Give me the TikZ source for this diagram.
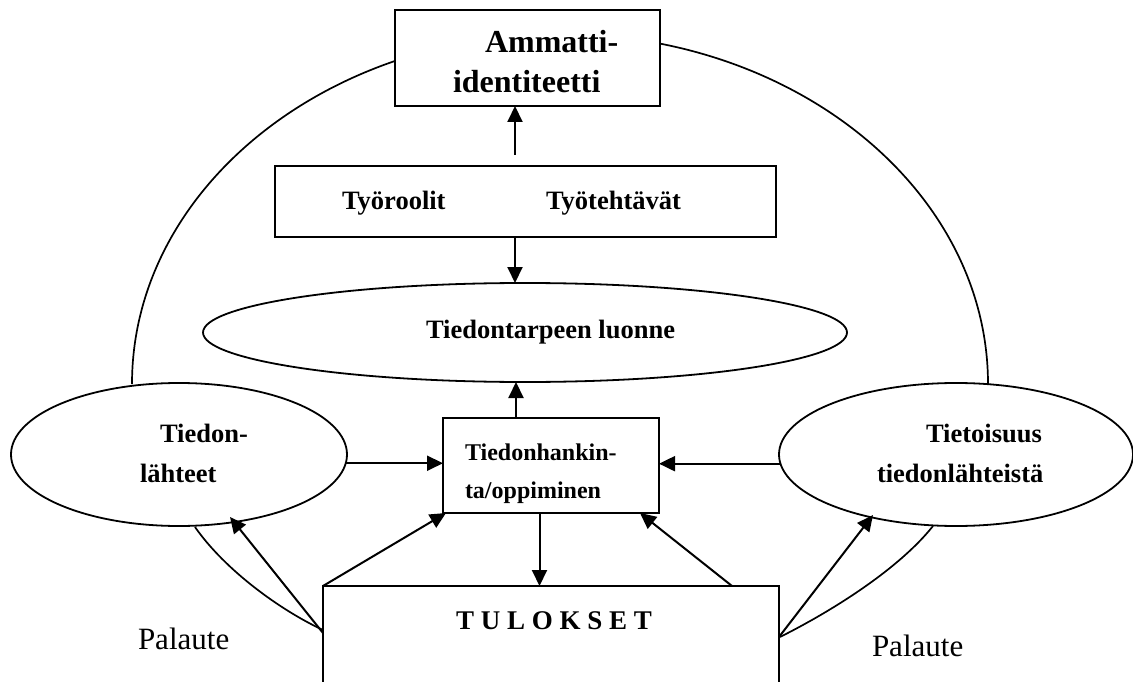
\documentclass[tikz,border=0pt]{standalone}
\usepackage{fontspec}
\setmainfont{Liberation Serif}
\usetikzlibrary{arrows.meta,shapes.geometric}
\tikzset{
  outl/.style={draw, line width=1.8pt, fill=white, inner sep=0pt, outer sep=0pt},
  boxnode/.style={outl, rectangle},
  ell/.style={outl, ellipse},
  lbl/.style={anchor=base west, inner sep=0pt, outer sep=0pt, font=\bfseries\fontsize{26.5}{30}\selectfont},
  biglbl/.style={lbl, font=\bfseries\fontsize{32}{36}\selectfont},
  smlbl/.style={lbl, font=\bfseries\fontsize{24}{28}\selectfont},
  plain/.style={anchor=base west, inner sep=0pt, outer sep=0pt, font=\fontsize{31}{35}\selectfont},
  arr/.style={line width=2pt, -{Triangle[length=16pt,width=15pt]}},
  ln/.style={line width=1.7pt}
}
\begin{document}
\begin{tikzpicture}[x=1pt,y=1pt]
\useasboundingbox (0,0) rectangle (1133,-682);
\clip (0,0) rectangle (1133,-682);

% large arch behind the top box
\draw[ln] (132,-384) arc[start angle=180, end angle=0, x radius=428pt, y radius=350pt];

% feedback curves
\draw[ln] (195,-527) .. controls (225,-570) and (280,-610) .. (323,-630);
\draw[ln] (780,-637) .. controls (830,-612) and (898,-570) .. (933,-526);

% shapes
\node[boxnode, minimum width=265pt, minimum height=96pt] (ident) at (527.5,-58) {};
\node[boxnode, minimum width=501pt, minimum height=71pt] (roles) at (525.5,-201.5) {};
\node[ell, minimum width=644pt, minimum height=99pt] (need) at (525,-332.5) {};
\node[boxnode, minimum width=216pt, minimum height=95pt] (hank) at (551,-465.5) {};
\node[ell, minimum width=336pt, minimum height=143pt] (src) at (179,-454.5) {};
\node[ell, minimum width=354pt, minimum height=143pt] (aware) at (956,-454.5) {};
\node[boxnode, minimum width=456pt, minimum height=114pt] (tul) at (551,-643) {};

% texts
\node[biglbl] (t1) at (485,-53) {Ammatti-};
\node[biglbl] (t2) at (453,-93) {identiteetti};
\node[lbl] (t3) at (342,-209) {Työroolit};
\node[lbl] (t4) at (546,-209) {Työtehtävät};
\node[lbl] (t5) at (426,-338) {Tiedontarpeen luonne};
\node[smlbl] (t6) at (465,-460) {Tiedonhankin-};
\node[smlbl] (t7) at (465,-498) {ta/oppiminen};
\node[lbl] (t8) at (160,-442) {Tiedon-};
\node[lbl] (t9) at (140,-482) {lähteet};
\node[lbl] (t10) at (926,-442) {Tietoisuus};
\node[lbl] (t11) at (877,-482) {tiedonlähteistä};
\node[lbl, font=\bfseries\fontsize{27}{30}\selectfont] (t12) at (456,-629) {T U L O K S E T};
\node[plain] (t13) at (138,-649) {Palaute};
\node[plain] (t14) at (872,-656) {Palaute};

% connector end points
\coordinate (a1) at (515,-155);
\coordinate (a2) at (515,-237);
\coordinate (a3) at (516,-418);
\coordinate (srcTip) at (230,-517);
\coordinate (awTip) at (873,-515);

% arrows
\draw[arr] (a1) -- (a1 |- ident.south);
\draw[arr] (a2) -- (a2 |- need.north);
\draw[arr] (a3) -- (a3 |- need.south);
\draw[arr] (src.-3.6) -- (src.-3.6 -| hank.west);
\draw[arr] (aware.183.8) -- (aware.183.8 -| hank.east);
\draw[arr] ([xshift=-11.5pt]hank.south) -- ([xshift=-11.5pt]tul.north);
\draw[arr] (tul.north west) -- ([xshift=3pt]hank.south west);
\draw[arr] ([xshift=-47pt]tul.north east) -- ([xshift=-19pt]hank.south east);
\draw[arr] ([yshift=-47pt]tul.north west) -- (srcTip);
\draw[arr] ([yshift=-51pt]tul.north east) -- (awTip);
\end{tikzpicture}
\end{document}
